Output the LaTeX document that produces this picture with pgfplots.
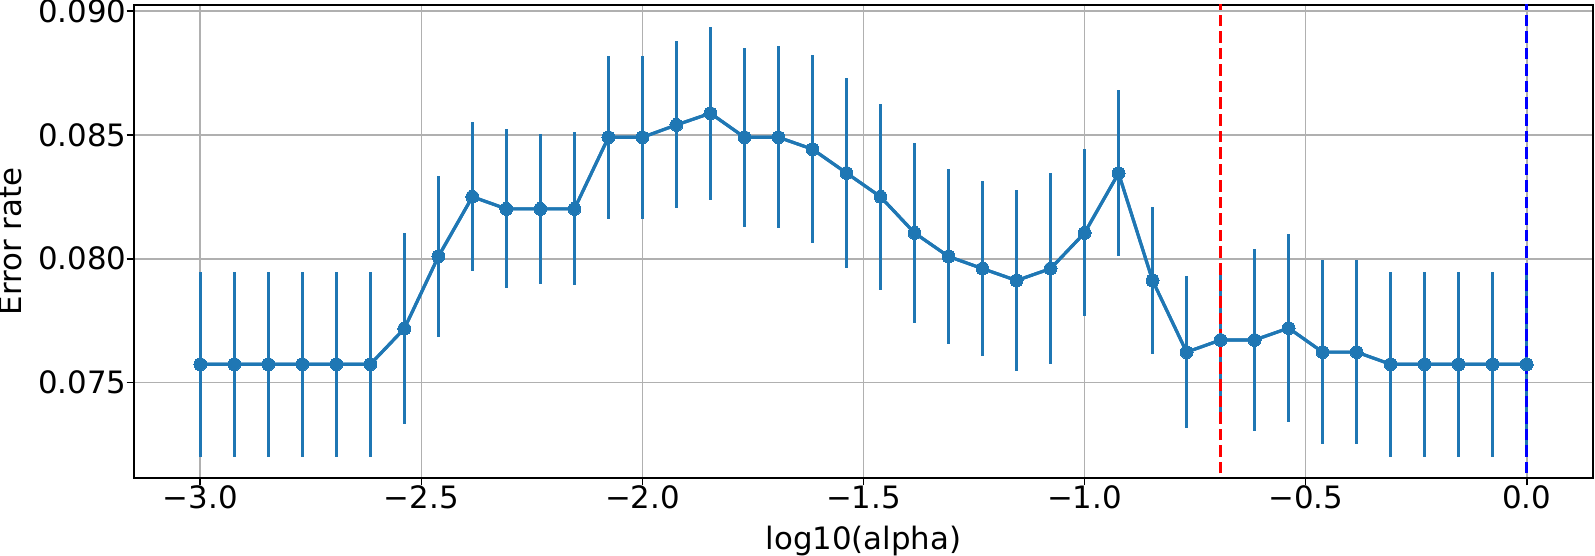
\documentclass[border=0pt]{standalone}
\usepackage{fontspec}
\setmainfont{DejaVu Sans}
\usepackage{pgfplots}
\pgfplotsset{compat=1.18}
\usepackage{pgfplotstable}
\definecolor{mplblue}{HTML}{1F77B4}
\definecolor{gridgray}{HTML}{B0B0B0}

\pgfplotstableread{
x y e
-3.0000 0.07574 0.00373
-2.9231 0.07574 0.00373
-2.8462 0.07574 0.00373
-2.7692 0.07574 0.00373
-2.6923 0.07574 0.00373
-2.6154 0.07574 0.00373
-2.5385 0.07718 0.00384
-2.4615 0.08009 0.00326
-2.3846 0.08250 0.00301
-2.3077 0.08201 0.00321
-2.2308 0.08201 0.00304
-2.1538 0.08201 0.00309
-2.0769 0.08490 0.00329
-2.0000 0.08490 0.00329
-1.9231 0.08540 0.00337
-1.8462 0.08587 0.00350
-1.7692 0.08490 0.00361
-1.6923 0.08490 0.00368
-1.6154 0.08442 0.00380
-1.5385 0.08346 0.00382
-1.4615 0.08250 0.00375
-1.3846 0.08104 0.00364
-1.3077 0.08009 0.00355
-1.2308 0.07960 0.00354
-1.1538 0.07912 0.00366
-1.0769 0.07960 0.00384
-1.0000 0.08104 0.00337
-0.9231 0.08345 0.00335
-0.8462 0.07912 0.00298
-0.7692 0.07623 0.00306
-0.6923 0.07672 0.00310
-0.6154 0.07672 0.00367
-0.5385 0.07720 0.00380
-0.4615 0.07623 0.00370
-0.3846 0.07623 0.00370
-0.3077 0.07574 0.00373
-0.2308 0.07574 0.00373
-0.1538 0.07574 0.00373
-0.0769 0.07574 0.00373
0.0000 0.07574 0.00373
}\data

\begin{document}
\begin{tikzpicture}
\begin{axis}[
  at={(0,0)}, anchor=south west,
  width=700.32pt, height=227.04pt, scale only axis,
  xmin=-3.15, xmax=0.15, ymin=0.07115, ymax=0.09024,
  xtick={-3,-2.5,-2,-1.5,-1,-0.5,0},
  xticklabels={−3.0,−2.5,−2.0,−1.5,−1.0,−0.5,0.0},
  ytick={0.075,0.080,0.085,0.090},
  yticklabels={0.075,0.080,0.085,0.090},
  scaled y ticks=false, scaled x ticks=false,
  grid=major, major grid style={gridgray, line width=0.8pt},
  axis line style={black, line width=0.8pt},
  tick align=outside, major tick length=3.5pt,
  tick style={black, line width=0.8pt},
  tick pos=left,
  tick label style={font=\fontsize{14.8}{17.8}\selectfont, inner sep=0pt},
  label style={font=\fontsize{14.8}{17.8}\selectfont},
  xlabel={log10(alpha)},
  ylabel={Error rate},
  xlabel style={at={(axis description cs:0.5,-0.1522)}, anchor=base, inner sep=0pt},
  ylabel style={at={(axis description cs:-0.0768,0.5)}, anchor=base, inner sep=0pt},
]
\addplot[mplblue, line width=1.5pt, mark=none, forget plot,
  error bars/.cd, y dir=both, y explicit, error mark=none,
  error bar style={mplblue, line width=1.5pt}]
  table[x=x, y=y, y error=e] {\data};
\addplot[red, line width=1.5pt, dash pattern=on 5.55pt off 2.4pt, forget plot]
  coordinates {(-0.6923,0.070) (-0.6923,0.092)};
\addplot[blue, line width=1.5pt, dash pattern=on 5.55pt off 2.4pt, forget plot]
  coordinates {(0,0.070) (0,0.092)};
\addplot[mplblue, line width=1.5pt, mark=*, mark size=3.1pt,
  mark options={solid, fill=mplblue, draw=mplblue, line width=0pt}]
  table[x=x, y=y] {\data};
\end{axis}
\pgfresetboundingbox
\useasboundingbox (-64.32pt,-37.44pt) rectangle (701.28pt,229.44pt);
\end{tikzpicture}
\end{document}
